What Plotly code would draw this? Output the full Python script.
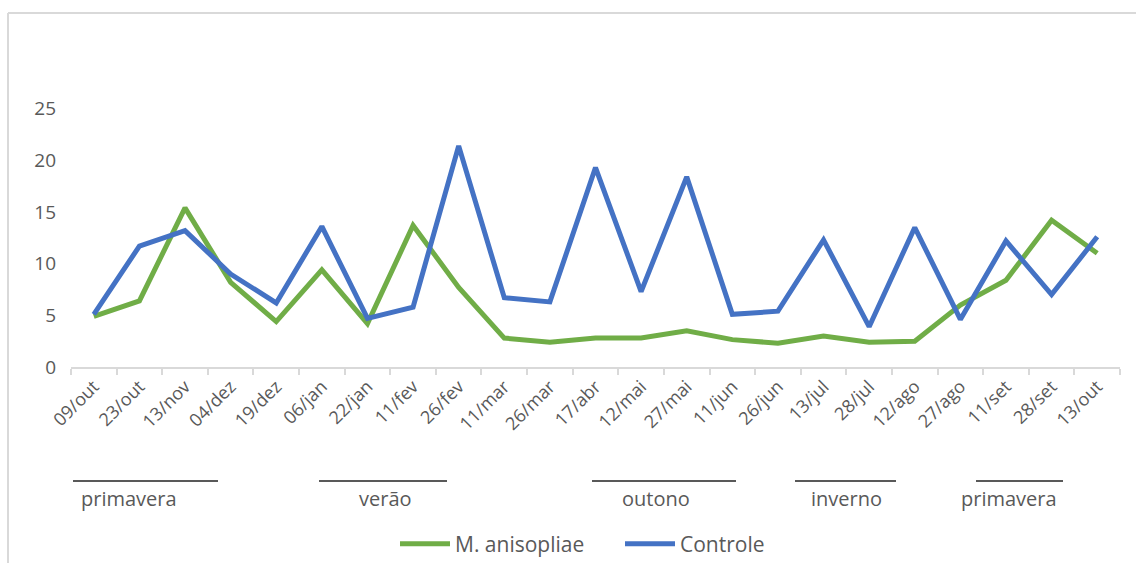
import plotly.graph_objects as go

datas = ["09/out", "23/out", "13/nov", "04/dez", "19/dez", "06/jan", "22/jan", "11/fev",
         "26/fev", "11/mar", "26/mar", "17/abr", "12/mai", "27/mai", "11/jun", "26/jun",
         "13/jul", "28/jul", "12/ago", "27/ago", "11/set", "28/set", "13/out"]

m_anisopliae = [4.9, 6.4, 15.4, 8.2, 4.4, 9.4, 4.2, 13.7, 7.7, 2.8, 2.4, 2.8, 2.8, 3.5,
                2.65, 2.3, 3.0, 2.4, 2.5, 6.0, 8.4, 14.2, 11.0]
controle = [5.1, 11.7, 13.2, 9.0, 6.2, 13.6, 4.7, 5.8, 21.4, 6.7, 6.3, 19.3, 7.3, 18.4,
            5.1, 5.4, 12.3, 3.9, 13.5, 4.6, 12.2, 7.0, 12.6]

y_ticks = [0, 5, 10, 15, 20, 25]

estacoes = ["primavera", "verão", "outono", "inverno", "primavera"]
estacao_linha_px = [(73, 218), (319, 447), (592, 736), (795, 896), (976, 1063)]
estacao_texto_px = [129, 385, 656, 846, 1009]

W, H = 1136, 563
L, R, T, B = 71, 16, 57, 196
PW = W - L - R
PH = H - T - B


def px2x(px):
    return (px - L) / PW


def py2y(py):
    return (H - B - py) / PH


FONT = "Open Sans"
GRAY = "#595959"
LIGHT = "#d9d9d9"

fig = go.Figure()
fig.add_trace(go.Scatter(x=datas, y=m_anisopliae, mode="lines", name="M. anisopliae",
                         line=dict(color="#70AD47", width=5)))
fig.add_trace(go.Scatter(x=datas, y=controle, mode="lines", name="Controle",
                         line=dict(color="#4472C4", width=5)))

shapes = []
for (a, b) in estacao_linha_px:
    shapes.append(dict(type="line", xref="paper", yref="paper",
                       x0=px2x(a), x1=px2x(b), y0=py2y(481), y1=py2y(481),
                       line=dict(color=GRAY, width=2)))
# chart frame (left and top)
shapes.append(dict(type="line", xref="paper", yref="paper",
                   x0=px2x(8), x1=px2x(8), y0=py2y(13), y1=py2y(563),
                   line=dict(color=LIGHT, width=2)))
shapes.append(dict(type="line", xref="paper", yref="paper",
                   x0=px2x(8), x1=px2x(1136), y0=py2y(13), y1=py2y(13),
                   line=dict(color=LIGHT, width=2)))

annotations = []
for nome, cx in zip(estacoes, estacao_texto_px):
    annotations.append(dict(text=nome, xref="paper", yref="paper", x=px2x(cx), y=py2y(498),
                            xanchor="center", yanchor="middle", showarrow=False,
                            font=dict(family=FONT, size=20, color=GRAY)))

fig.update_layout(
    width=W, height=H,
    margin=dict(l=L, r=R, t=T, b=B, pad=0, autoexpand=False),
    paper_bgcolor="white", plot_bgcolor="white",
    font=dict(family=FONT, color=GRAY),
    shapes=shapes, annotations=annotations,
    showlegend=True,
    legend=dict(orientation="h", xref="container", yref="container",
                x=395 / W, xanchor="left", y=1 - 544 / H, yanchor="middle",
                entrywidth=160, entrywidthmode="pixels",
                font=dict(family=FONT, size=21, color=GRAY), itemwidth=50,
                bgcolor="rgba(0,0,0,0)"),
    xaxis=dict(type="category", range=[-0.5, len(datas) - 0.5], tickangle=-45,
               tickson="boundaries", ticks="outside",
               ticklen=6, tickcolor=LIGHT, tickwidth=1.5, showline=True, linecolor=LIGHT,
               linewidth=2, showgrid=False, zeroline=False,
               tickfont=dict(family=FONT, size=18, color=GRAY)),
    yaxis=dict(range=[0, 30], tickvals=y_ticks, showgrid=False, zeroline=False,
               showline=False, ticks="", ticklabelstandoff=14,
               tickfont=dict(family=FONT, size=19, color=GRAY)),
)

fig.write_html("out.html")
